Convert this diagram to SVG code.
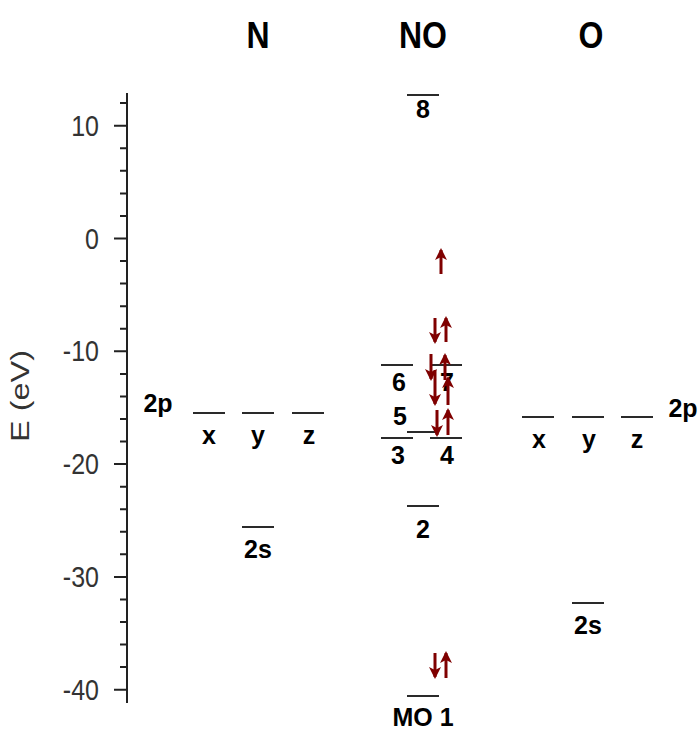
<svg xmlns="http://www.w3.org/2000/svg" width="698" height="731" viewBox="0 0 698 731">
<style>
.lvl{stroke:#2a2a2a;stroke-width:2;fill:none}
.ax{stroke:#222;stroke-width:2;fill:none}
.lbl{font-family:"Liberation Sans",Arial,sans-serif;font-weight:bold;font-size:25px;fill:#000;text-anchor:middle}
.ttl{font-family:"Liberation Sans",Arial,sans-serif;font-weight:bold;font-size:32px;fill:#000;text-anchor:middle}
.tk{font-family:"Liberation Sans",Arial,sans-serif;font-size:25px;fill:#333;text-anchor:end}
.e{stroke:#7f0000;stroke-width:3;fill:none;marker-end:url(#ah)}
</style>
<defs>
<marker id="ah" markerUnits="userSpaceOnUse" markerWidth="12" markerHeight="12" viewBox="0 0 12 12" refX="10" refY="6" orient="auto">
<path d="M0,0 L12,6 L0,12 L3,6 z" fill="#7f0000"/>
</marker>
</defs>
<rect width="698" height="731" fill="#fff"/>

<g id="titles">
<text class="ttl" transform="translate(258,48) scale(1,1.15)">N</text>
<text class="ttl" transform="translate(423,48) scale(1,1.15)">NO</text>
<text class="ttl" transform="translate(591,48) scale(1,1.15)">O</text>
</g>

<g id="axis">
<path class="ax" d="M127,93 V703"/>
<path class="ax" d="M114,125.7H127M114,238.5H127M114,351.3H127M114,464.1H127M114,576.9H127M114,689.7H127"/>
<path class="ax" d="M120,103.1H127M120,148.3H127M120,170.8H127M120,193.4H127M120,215.9H127M120,261.1H127M120,283.6H127M120,306.2H127M120,328.7H127M120,373.9H127M120,396.4H127M120,419H127M120,441.5H127M120,486.7H127M120,509.2H127M120,531.8H127M120,554.3H127M120,599.5H127M120,622H127M120,644.6H127M120,667.1H127"/>
<text class="tk" transform="translate(99,135.7) scale(1,1.2)">10</text>
<text class="tk" transform="translate(99,248.5) scale(1,1.2)">0</text>
<text class="tk" transform="translate(99,361.3) scale(1,1.2)">-10</text>
<text class="tk" transform="translate(99,474.1) scale(1,1.2)">-20</text>
<text class="tk" transform="translate(99,586.9) scale(1,1.2)">-30</text>
<text class="tk" transform="translate(99,699.7) scale(1,1.2)">-40</text>
<text class="tk" style="text-anchor:middle" transform="translate(29,396) rotate(-90) scale(1.3,1)">E (eV)</text>
</g>

<g id="N-2p">
<path class="lvl" d="M193,413H225M242,413H274M292,413H324"/>
<text class="lbl" x="158" y="412">2p</text>
<text class="lbl" x="209" y="444">x</text>
<text class="lbl" x="258" y="444">y</text>
<text class="lbl" x="309" y="444">z</text>
</g>
<g id="N-2s">
<path class="lvl" d="M242,527H274"/>
<text class="lbl" x="258" y="558">2s</text>
</g>

<g id="MO8"><path class="lvl" d="M407,95H439"/><text class="lbl" x="423" y="118">8</text></g>
<g id="MO6"><path class="lvl" d="M381,365H413"/><text class="lbl" x="399" y="391">6</text></g>
<g id="MO7"><path class="lvl" d="M430,365H462"/><text class="lbl" x="447" y="391">7</text></g>
<g id="MO5"><path class="lvl" d="M407,432H439"/><text class="lbl" x="400" y="425">5</text></g>
<g id="MO3"><path class="lvl" d="M381,438H413"/><text class="lbl" x="398" y="464">3</text></g>
<g id="MO4"><path class="lvl" d="M430,438H462"/><text class="lbl" x="447" y="464">4</text></g>
<g id="MO2"><path class="lvl" d="M407,506H439"/><text class="lbl" x="423" y="538">2</text></g>
<g id="MO1"><path class="lvl" d="M407,696H439"/><text class="lbl" x="423" y="726">MO 1</text></g>

<g id="O-2p">
<path class="lvl" d="M522,417H554M572,417H604M621,417H653"/>
<text class="lbl" x="683" y="417">2p</text>
<text class="lbl" x="539" y="448">x</text>
<text class="lbl" x="589" y="448">y</text>
<text class="lbl" x="637" y="448">z</text>
</g>
<g id="O-2s">
<path class="lvl" d="M572,603H604"/>
<text class="lbl" x="588" y="634">2s</text>
</g>

<g id="electrons">
<line class="e" x1="441" y1="274" x2="441" y2="250"/>
<line class="e" x1="435" y1="318" x2="435" y2="342"/>
<line class="e" x1="446" y1="342" x2="446" y2="318"/>
<line class="e" x1="431" y1="354" x2="431" y2="379"/>
<line class="e" x1="445" y1="380" x2="445" y2="355"/>
<line class="e" x1="435" y1="370" x2="435" y2="404"/>
<line class="e" x1="448" y1="405" x2="448" y2="378"/>
<line class="e" x1="437" y1="410" x2="437" y2="435"/>
<line class="e" x1="448" y1="435" x2="448" y2="410"/>
<line class="e" x1="435" y1="653" x2="435" y2="677"/>
<line class="e" x1="446" y1="678" x2="446" y2="653"/>
</g>
</svg>
